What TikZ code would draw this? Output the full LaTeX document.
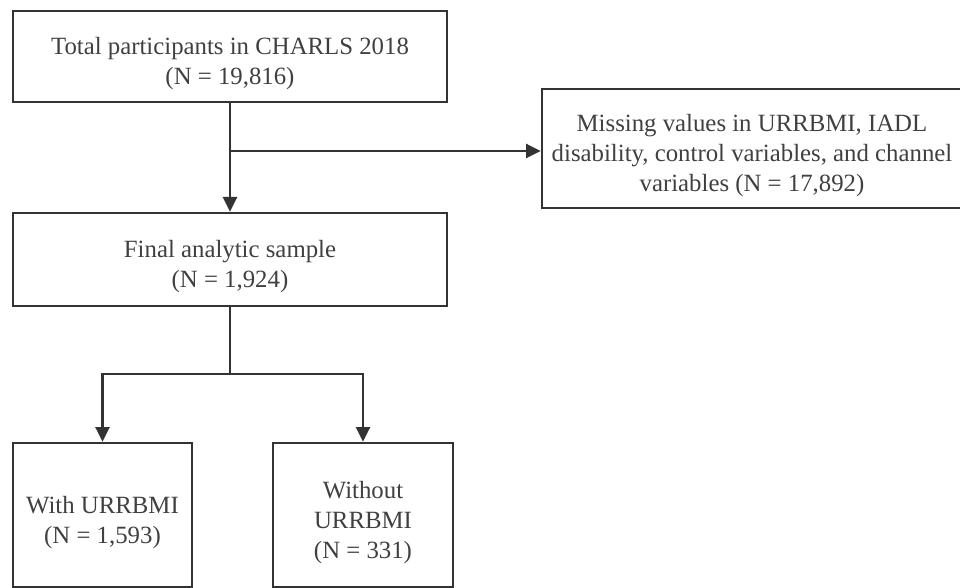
\documentclass[tikz,border=0pt]{standalone}
\usepackage{fontspec}
\setmainfont{Liberation Serif}
\usetikzlibrary{arrows.meta}
\definecolor{linec}{HTML}{333333}
\definecolor{textc}{HTML}{404040}
\newcommand\firststrut{\rule{0pt}{23.5pt}}
\tikzset{
  box/.style={draw=linec, line width=2pt, fill=white, align=center, inner sep=0pt,
    text=textc, font=\fontsize{18.6}{22.5}\selectfont},
  conn/.style={draw=linec, line width=2pt},
  arr/.style={conn, -{Triangle[length=11pt,width=10.5pt]}}
}
\begin{document}
\begin{tikzpicture}[x=0.75pt,y=-0.75pt]
\useasboundingbox (0,0) rectangle (960,588);
\clip (0,0) rectangle (960,588);
\node[box, minimum width=434*0.75pt, minimum height=91*0.75pt] (top) at (230,56.5)
  {\firststrut Total participants in CHARLS 2018\\(N = 19,816)};
\node[box, minimum width=420*0.75pt, minimum height=119*0.75pt] (miss) at (752,148.5)
  {\firststrut Missing values in URRBMI, IADL\\disability, control variables, and channel\\variables (N = 17,892)};
\node[box, minimum width=434*0.75pt, minimum height=93*0.75pt] (final) at (230,259.5)
  {\firststrut Final analytic sample\\(N = 1,924)};
\node[box, minimum width=179*0.75pt, minimum height=144*0.75pt] (with) at (102.5,515)
  {\firststrut With URRBMI\\(N = 1,593)};
\node[box, minimum width=180*0.75pt, minimum height=144*0.75pt] (without) at (363,515)
  {\firststrut Without\\URRBMI\\(N = 331)};
\coordinate (br) at (230,151);
\coordinate (sp) at (230,374);
\draw[arr] (top.south) -- (final.north);
\draw[arr] (br) -- (br -| miss.west);
\draw[conn] (final.south) -- (sp);
\draw[arr] (sp) -| (with.north);
\draw[arr] (sp) -| (without.north);
\end{tikzpicture}
\end{document}
